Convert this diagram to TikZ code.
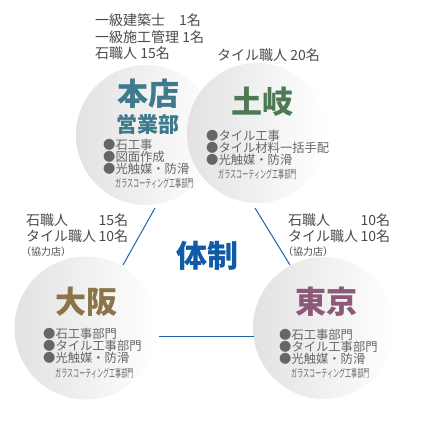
\documentclass[tikz,border=0pt]{standalone}
\usepackage{fontspec}
\usepackage{graphicx}
\setmainfont{Noto Sans CJK JP}
\usetikzlibrary{calc,positioning}
\definecolor{Label}{HTML}{4A4A4A}
\definecolor{Item}{HTML}{666666}
\definecolor{Shade}{HTML}{E2E2E2}
\definecolor{LinkBlue}{HTML}{1F63AE}
\definecolor{Head}{HTML}{0F5BA8}
\definecolor{Teal}{HTML}{3D7A8C}
\definecolor{Green}{HTML}{4D7A55}
\definecolor{Brown}{HTML}{8B7448}
\definecolor{Plum}{HTML}{8A5A77}
\newcommand{\glassline}{\scalebox{0.55}[1]{ガラスコーティング工事部門}}
\tikzset{site/.style={circle,draw=none,inner sep=0pt,minimum size=140pt,left color=Shade,right color=white},sitename/.style={inner sep=0pt,font=\fontsize{31}{31}\selectfont\bfseries},items/.style={anchor=west,align=left,inner sep=0pt,text=Item,font=\fontsize{12.3}{12}\selectfont},glass/.style={anchor=west,inner sep=0pt,text=Item,font=\fontsize{11}{11}\selectfont},staff/.style={anchor=west,align=left,inner sep=0pt,text=Label,font=\fontsize{14}{16.5}\selectfont},link/.style={draw=LinkBlue,line width=1pt}}

\begin{document}
\begin{tikzpicture}[x=1pt,y=-1pt]
      \useasboundingbox(0,0)rectangle(427,423);
      % circles
      \node[site](honten)at(146,135){};
      \node[site](toki)at(257,133){};
      \node[site,minimum size=143pt](osaka)at(86,328){};
      \node[site,minimum size=142pt](tokyo)at(324,328){};
      % links
      \coordinate(l1a)at(155,208);\coordinate(l1b)at(123,265);
      \coordinate(l2a)at(255,208);\coordinate(l2b)at(290,265);
      \coordinate(l3a)at(159,336);\coordinate(l3b)at(254,336);
      \draw[link](l1a)--(l1b);\draw[link](l2a)--(l2b);\draw[link](l3a)--(l3b);
      \node[font=\fontsize{31}{31}\selectfont\bfseries,text=Head](taisei)at(207,256){体制};
      % honten
      \node[staff](hontenstaff)at(95,37){一級建築士　1名\\一級施工管理 1名\\石職人 15名};
      \node[sitename,text=Teal](hontenname)at(148,94){本店};
      \node[inner sep=0pt,text=Teal,font=\fontsize{21}{21}\selectfont\bfseries,below=5pt of hontenname](eigyo){営業部};
      \node[items](hontenitems)at(103,157){●石工事\\●図面作成\\●光触媒・防滑};
      \node[glass](hontenglass)at(115,183){\glassline};
      % toki
      \node[staff](tokistaff)at(217,55){タイル職人 20名};
      \node[sitename,text=Green](tokiname)at(262,102){土岐};
      \node[items](tokiitems)at(206,148){●タイル工事\\●タイル材料一括手配\\●光触媒・防滑};
      \node[glass](tokiglass)at(218,174){\glassline};
      % osaka
      \node[staff](osakastaff)at(26,230){\begin{tabular}{@{}l@{\,}l@{}}石職人&15名\\タイル職人&10名\end{tabular}};
      \node[anchor=west,inner sep=0pt,text=Label,font=\fontsize{10}{10}\selectfont](osakanote)at(21,252){（協力店）};
      \node[sitename,text=Brown](osakaname)at(86,302){大阪};
      \node[items](osakaitems)at(43,346){●石工事部門\\●タイル工事部門\\●光触媒・防滑};
      \node[glass](osakaglass)at(55,373){\glassline};
      % tokyo
      \node[staff](tokyostaff)at(288,230){\begin{tabular}{@{}l@{\,}l@{}}石職人&10名\\タイル職人&10名\end{tabular}};
      \node[anchor=west,inner sep=0pt,text=Label,font=\fontsize{10}{10}\selectfont](tokyonote)at(283,252){（協力店）};
      \node[sitename,text=Plum](tokyoname)at(326,302){東京};
      \node[items](tokyoitems)at(279,347){●石工事部門\\●タイル工事部門\\●光触媒・防滑};
      \node[glass](tokyoglass)at(291,373){\glassline};
    \end{tikzpicture}
\end{document}
